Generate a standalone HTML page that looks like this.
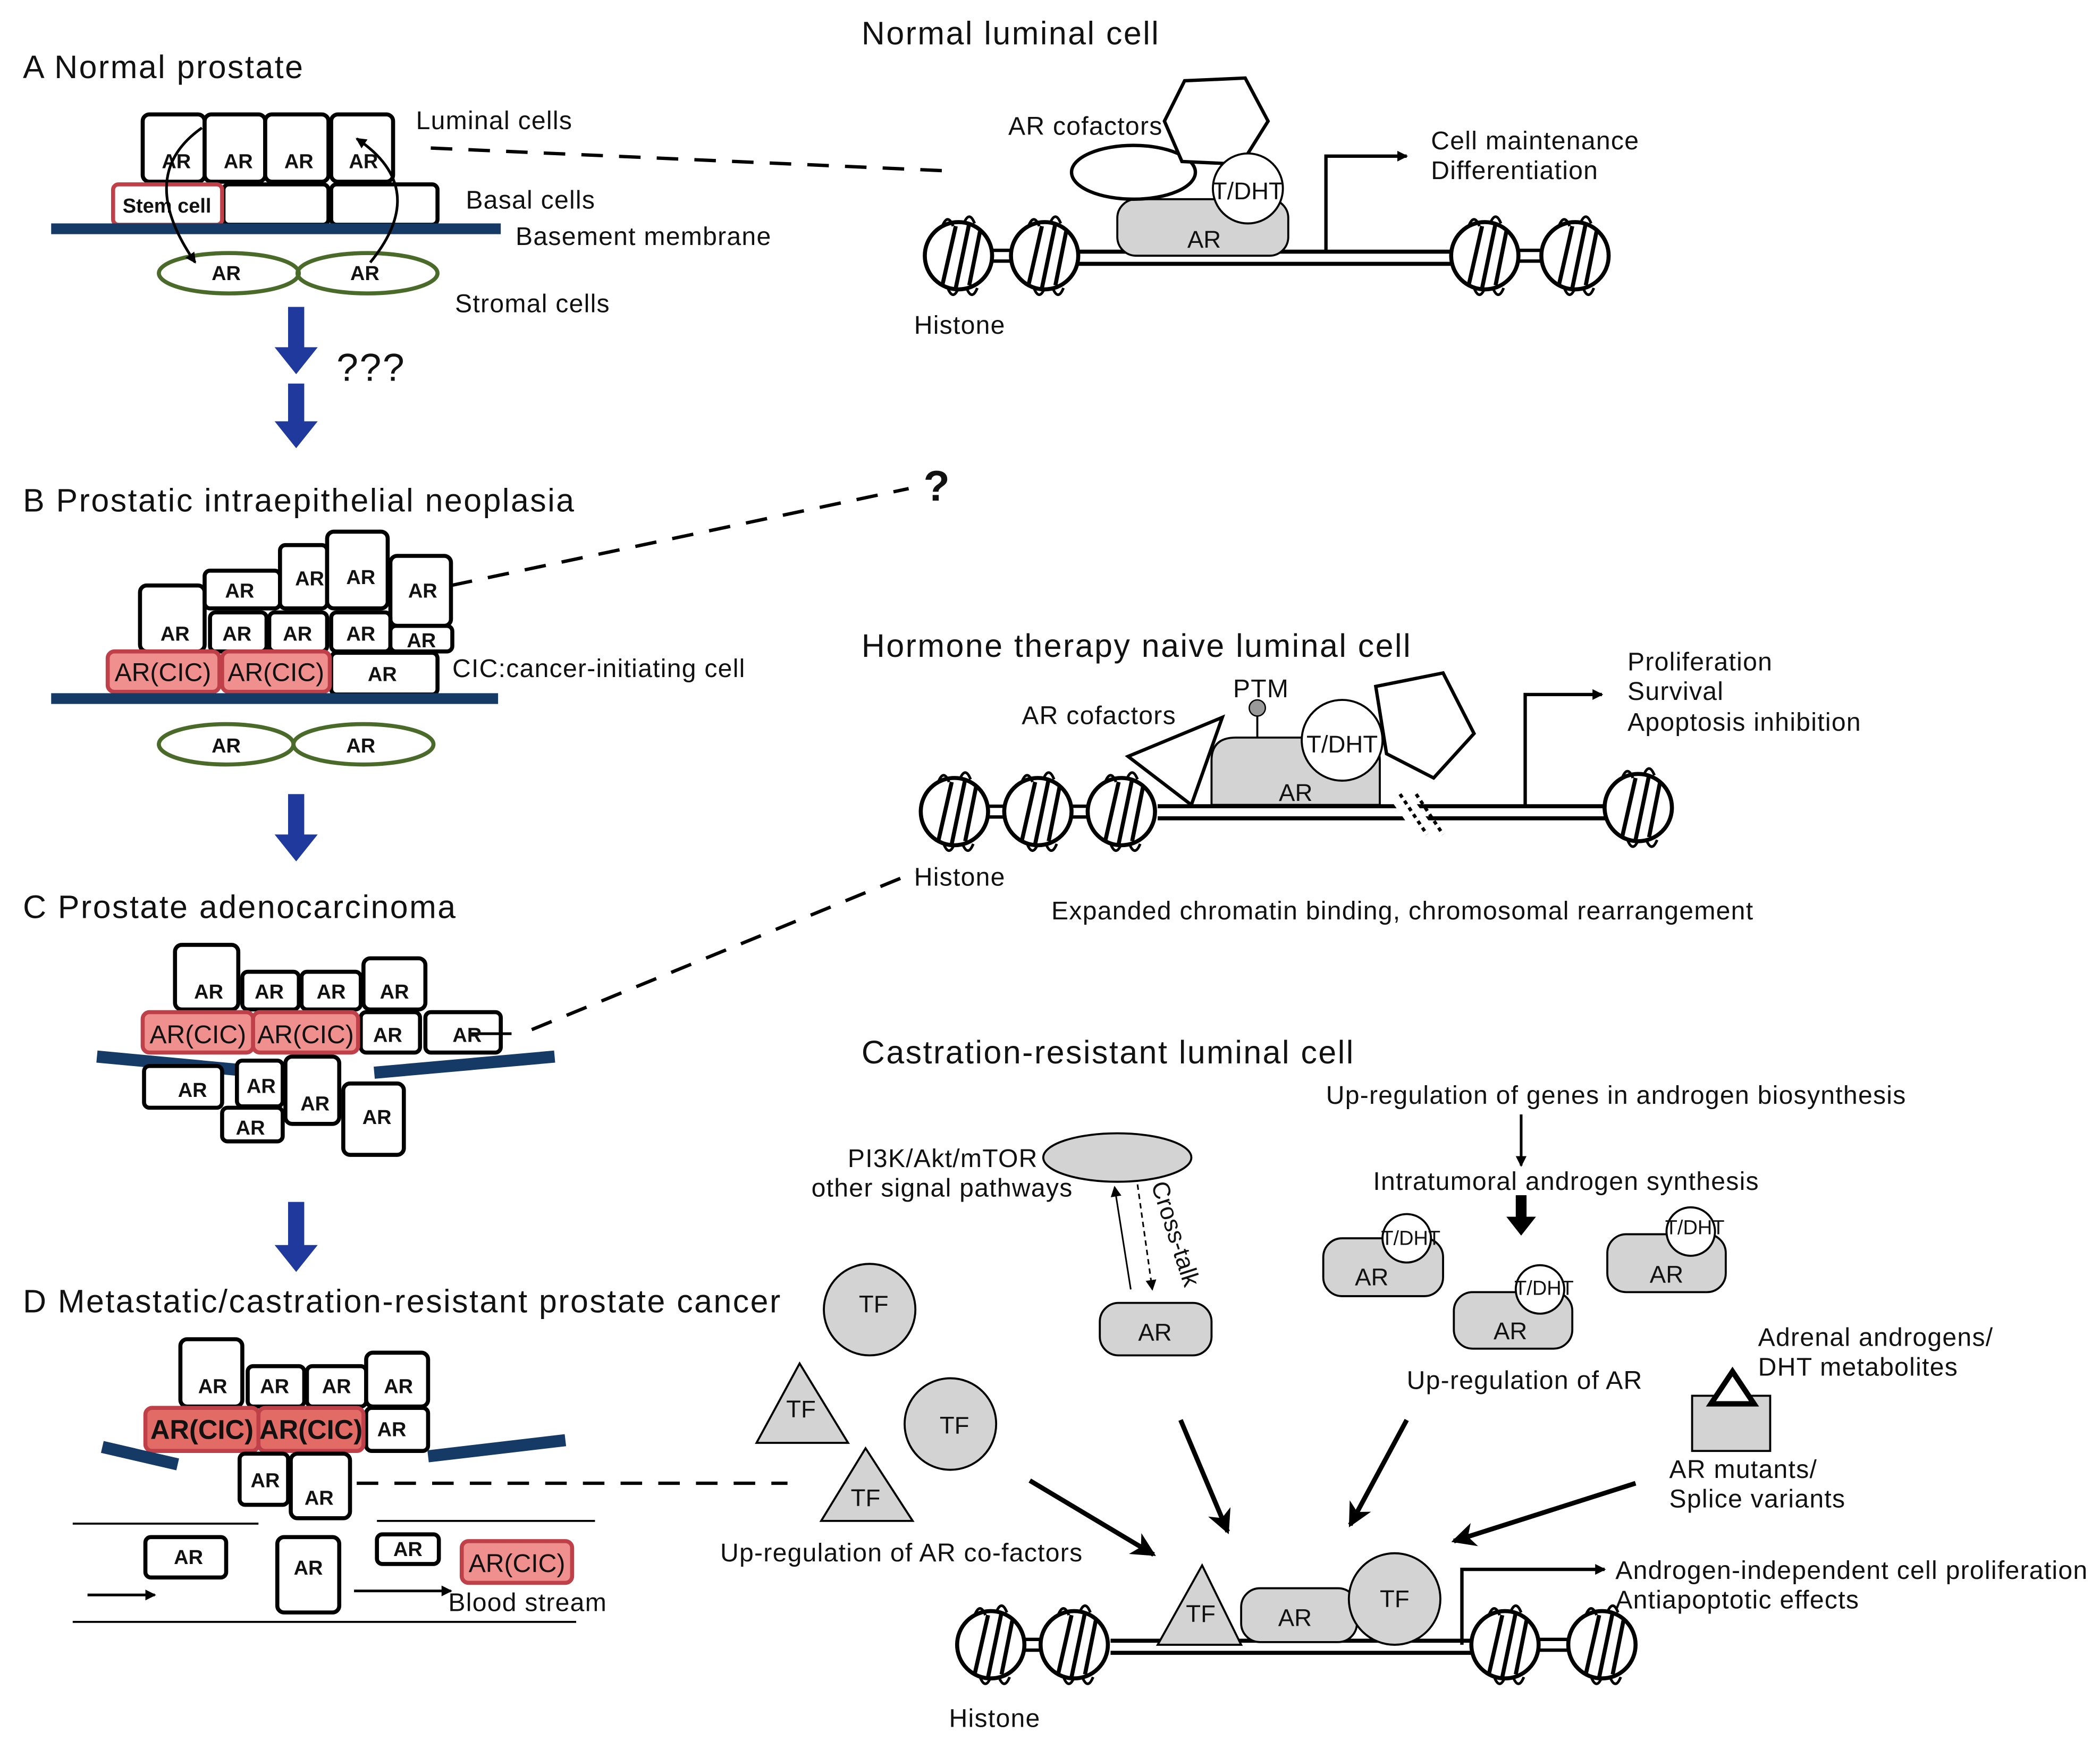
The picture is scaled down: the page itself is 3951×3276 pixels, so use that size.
<!DOCTYPE html>
<html><head><meta charset="utf-8"><style>
html,body{margin:0;padding:0;background:#fff;}
svg{display:block;}
text{font-family:"Liberation Sans",sans-serif;fill:#111;}
</style></head><body>
<svg width="3951" height="3276" viewBox="0 0 1560 1293.5" xmlns="http://www.w3.org/2000/svg">
<defs>
<g id="h">
<circle cx="0" cy="0" r="25" fill="#fff" stroke="#000" stroke-width="3"/>
<line x1="-12" y1="22" x2="-2" y2="-22" stroke="#000" stroke-width="3"/>
<line x1="-2" y1="24" x2="8" y2="-24" stroke="#000" stroke-width="3"/>
<line x1="8" y1="22" x2="16" y2="-18" stroke="#000" stroke-width="3"/>
<path d="M-12,-22 q4,-10 8,0 M4,-24 q4,-10 8,0 M-8,24 q4,10 8,0 M6,24 q4,10 8,0" fill="none" stroke="#000" stroke-width="2"/>
</g>
<marker id="ar" markerWidth="8" markerHeight="8" refX="7" refY="4" orient="auto" markerUnits="userSpaceOnUse"><path d="M0,0 L8,4 L0,8z" fill="#000"/></marker>
<marker id="arb" markerWidth="18" markerHeight="18" refX="16" refY="9" orient="auto" markerUnits="userSpaceOnUse"><path d="M0,0 L18,9 L0,18 L5,9z" fill="#000"/></marker>
</defs>

<g font-size="24" letter-spacing="1">
<text x="640" y="33">Normal luminal cell</text>
<text x="17" y="58">A  Normal prostate</text>
<text x="17" y="380">B Prostatic intraepithelial neoplasia</text>
<text x="17" y="682">C Prostate adenocarcinoma</text>
<text x="17" y="975">D Metastatic/castration-resistant prostate cancer</text>
<text x="640" y="488">Hormone therapy naive luminal cell</text>
<text x="640" y="790">Castration-resistant luminal cell</text>
</g>

<!-- Panel A -->
<g stroke="#000" stroke-width="3" fill="#fff">
<rect x="106" y="85" width="46" height="50" rx="5"/><rect x="152" y="85" width="45" height="50" rx="5"/>
<rect x="197" y="85" width="47" height="50" rx="5"/><rect x="246" y="85" width="46" height="50" rx="5"/>
<rect x="166" y="137" width="78" height="30" rx="4"/><rect x="246" y="137" width="79" height="30" rx="4"/>
</g>
<rect x="84" y="137" width="81" height="30" rx="4" fill="#fff" stroke="#c0404a" stroke-width="3"/>
<line x1="38" y1="170" x2="372" y2="170" stroke="#153a66" stroke-width="8"/>
<ellipse cx="170" cy="203" rx="52" ry="15" fill="none" stroke="#4a6a2a" stroke-width="3"/>
<ellipse cx="273" cy="203" rx="52" ry="15" fill="none" stroke="#4a6a2a" stroke-width="3"/>
<g font-size="15" font-weight="bold" text-anchor="middle">
<text x="131" y="125">AR</text><text x="177" y="125">AR</text><text x="222" y="125">AR</text><text x="270" y="125">AR</text>
<text x="124" y="158">Stem cell</text><text x="168" y="208">AR</text><text x="271" y="208">AR</text>
</g>
<path d="M150,95 Q100,130 145,195" fill="none" stroke="#000" stroke-width="2" marker-end="url(#ar)"/>
<path d="M275,195 Q320,140 265,103" fill="none" stroke="#000" stroke-width="2" marker-end="url(#ar)"/>
<g font-size="19" letter-spacing="0.5">
<text x="309" y="96">Luminal cells</text><text x="346" y="155">Basal cells</text>
<text x="383" y="182">Basement membrane</text><text x="338" y="232">Stromal cells</text>
</g>

<!-- blue arrows -->
<g fill="#1f3a9c">
<path d="M214,228 h12 v30 h10 l-16,20 l-16,-20 h10z"/>
<path d="M214,285 h12 v28 h10 l-16,20 l-16,-20 h10z"/>
<path d="M214,590 h12 v30 h10 l-16,20 l-16,-20 h10z"/>
<path d="M214,893 h12 v32 h10 l-16,20 l-16,-20 h10z"/>
</g>
<text x="250" y="283" font-size="29" letter-spacing="1">???</text>

<!-- dashed lines -->
<g stroke="#000" stroke-width="2.5" stroke-dasharray="16,12" fill="none">
<line x1="320" y1="110" x2="705" y2="127"/>
<line x1="335" y1="435" x2="675" y2="363"/>
<line x1="395" y1="765" x2="680" y2="648"/>
<line x1="265" y1="1102" x2="585" y2="1102"/>
</g>
<text x="686" y="372" font-size="32" font-weight="bold">?</text>

<!-- Normal luminal cell -->
<line x1="800" y1="187" x2="1080" y2="187" stroke="#000" stroke-width="3"/>
<line x1="800" y1="196" x2="1080" y2="196" stroke="#000" stroke-width="3"/>
<line x1="735" y1="186" x2="752" y2="186" stroke="#000" stroke-width="2.5"/><line x1="735" y1="194" x2="752" y2="194" stroke="#000" stroke-width="2.5"/>
<line x1="1127" y1="186" x2="1146" y2="186" stroke="#000" stroke-width="2.5"/><line x1="1127" y1="194" x2="1146" y2="194" stroke="#000" stroke-width="2.5"/>
<use href="#h" x="712" y="190"/><use href="#h" x="776" y="190"/><use href="#h" x="1103" y="190"/><use href="#h" x="1170" y="190"/>
<rect x="830" y="148" width="127" height="42" rx="14" fill="#d3d3d3" stroke="#000" stroke-width="1.5"/>
<ellipse cx="842" cy="128" rx="46" ry="20" fill="#fff" stroke="#000" stroke-width="2.5"/>
<polygon points="880,60 925,58 942,90 922,122 878,120 865,90" fill="#fff" stroke="#000" stroke-width="2.5"/>
<circle cx="927" cy="140" r="26" fill="#fff" stroke="#000" stroke-width="1.5"/>
<text x="927" y="148" font-size="18" text-anchor="middle">T/DHT</text>
<text x="882" y="184" font-size="18">AR</text>
<path d="M985,188 V116 H1045" fill="none" stroke="#000" stroke-width="2.5" marker-end="url(#ar)"/>
<g font-size="19" letter-spacing="0.5"><text x="749" y="100">AR cofactors</text><text x="1063" y="111">Cell maintenance</text><text x="1063" y="133">Differentiation</text><text x="679" y="248">Histone</text></g>

<!-- Panel B -->
<g stroke="#000" stroke-width="3" fill="#fff">
<rect x="104" y="435" width="48" height="49" rx="5"/>
<rect x="152" y="424" width="56" height="28" rx="4"/>
<rect x="208" y="405" width="35" height="47" rx="4"/>
<rect x="243" y="395" width="45" height="57" rx="5"/>
<rect x="290" y="413" width="45" height="52" rx="5"/>
<rect x="156" y="455" width="42" height="29" rx="4"/>
<rect x="200" y="455" width="43" height="29" rx="4"/>
<rect x="246" y="455" width="44" height="29" rx="4"/>
<rect x="290" y="465" width="46" height="19" rx="4"/>
<rect x="246" y="485" width="79" height="31" rx="4"/>
</g>
<rect x="80" y="484" width="83" height="30" rx="5" fill="#f0908e" stroke="#c0404a" stroke-width="3"/>
<rect x="165" y="484" width="80" height="30" rx="5" fill="#f0908e" stroke="#c0404a" stroke-width="3"/>
<line x1="38" y1="519" x2="370" y2="519" stroke="#153a66" stroke-width="8"/>
<ellipse cx="168" cy="553" rx="50" ry="15" fill="none" stroke="#4a6a2a" stroke-width="3"/>
<ellipse cx="270" cy="553" rx="52" ry="15" fill="none" stroke="#4a6a2a" stroke-width="3"/>
<g font-size="15" font-weight="bold" text-anchor="middle">
<text x="178" y="444">AR</text><text x="230" y="435">AR</text><text x="268" y="434">AR</text><text x="314" y="444">AR</text>
<text x="130" y="476">AR</text><text x="176" y="476">AR</text><text x="221" y="476">AR</text><text x="268" y="476">AR</text><text x="313" y="481">AR</text>
<text x="284" y="506">AR</text><text x="168" y="559">AR</text><text x="268" y="559">AR</text>
</g>
<g font-size="19" text-anchor="middle"><text x="121" y="506">AR(CIC)</text><text x="205" y="506">AR(CIC)</text></g>
<text x="336" y="503" font-size="19" letter-spacing="0.5">CIC:cancer-initiating cell</text>

<!-- Hormone naive -->
<line x1="860" y1="599" x2="1195" y2="599" stroke="#000" stroke-width="3"/>
<line x1="860" y1="608" x2="1195" y2="608" stroke="#000" stroke-width="3"/>
<g stroke="#000" stroke-width="2.5"><line x1="732" y1="599" x2="748" y2="599"/><line x1="732" y1="607" x2="748" y2="607"/><line x1="794" y1="599" x2="810" y2="599"/><line x1="794" y1="607" x2="810" y2="607"/></g>
<use href="#h" x="709" y="603"/><use href="#h" x="771" y="603"/><use href="#h" x="833" y="603"/><use href="#h" x="1217" y="600"/>
<line x1="1040" y1="592" x2="1060" y2="620" stroke="#fff" stroke-width="14"/>
<g stroke="#000" stroke-width="2.5" stroke-dasharray="3,3"><line x1="1040" y1="590" x2="1060" y2="620"/><line x1="1052" y1="590" x2="1072" y2="620"/></g>
<path d="M900,598 V565 Q900,548 918,548 H1010 Q1025,548 1025,565 V598z" fill="#d3d3d3" stroke="#000" stroke-width="1.5"/>
<polygon points="838,562 908,533 885,598" fill="#fff" stroke="#000" stroke-width="2.5"/>
<polygon points="1022,510 1072,500 1095,545 1065,578 1030,560" fill="#fff" stroke="#000" stroke-width="2.5"/>
<circle cx="997" cy="550" r="30" fill="#fff" stroke="#000" stroke-width="1.5"/>
<line x1="934" y1="530" x2="934" y2="548" stroke="#000" stroke-width="1.5"/>
<circle cx="934" cy="526" r="6" fill="#999" stroke="#000" stroke-width="1"/>
<text x="997" y="559" font-size="18" text-anchor="middle">T/DHT</text>
<text x="950" y="595" font-size="18">AR</text>
<path d="M1133,600 V516 H1190" fill="none" stroke="#000" stroke-width="2.5" marker-end="url(#ar)"/>
<g font-size="19" letter-spacing="0.5"><text x="916" y="518">PTM</text><text x="759" y="538">AR cofactors</text>
<text x="1209" y="498">Proliferation</text><text x="1209" y="520">Survival</text><text x="1209" y="543">Apoptosis inhibition</text>
<text x="679" y="658">Histone</text><text x="781" y="683">Expanded chromatin binding, chromosomal rearrangement</text></g>

<!-- Panel C -->
<g stroke="#000" stroke-width="3" fill="#fff">
<rect x="130" y="702" width="47" height="48" rx="5"/><rect x="180" y="722" width="42" height="28" rx="4"/>
<rect x="224" y="722" width="44" height="28" rx="4"/><rect x="270" y="712" width="46" height="38" rx="5"/>
<rect x="268" y="752" width="44" height="30" rx="4"/><rect x="316" y="752" width="56" height="30" rx="4"/>
</g>
<rect x="106" y="752" width="82" height="30" rx="5" fill="#f0908e" stroke="#c0404a" stroke-width="3"/>
<rect x="188" y="752" width="78" height="30" rx="5" fill="#f0908e" stroke="#c0404a" stroke-width="3"/>
<line x1="72" y1="785" x2="200" y2="797" stroke="#153a66" stroke-width="9"/>
<line x1="278" y1="797" x2="412" y2="785" stroke="#153a66" stroke-width="9"/>
<g stroke="#000" stroke-width="3" fill="#fff">
<rect x="107" y="792" width="58" height="31" rx="4"/><rect x="176" y="788" width="34" height="34" rx="4"/>
<rect x="212" y="785" width="40" height="50" rx="5"/><rect x="165" y="823" width="45" height="25" rx="4"/>
<rect x="255" y="805" width="45" height="53" rx="5"/>
</g>
<line x1="350" y1="768" x2="380" y2="768" stroke="#000" stroke-width="2"/>
<g font-size="15" font-weight="bold" text-anchor="middle">
<text x="155" y="742">AR</text><text x="200" y="742">AR</text><text x="246" y="742">AR</text><text x="293" y="742">AR</text>
<text x="288" y="774">AR</text><text x="347" y="774">AR</text>
<text x="143" y="815">AR</text><text x="194" y="812">AR</text><text x="234" y="825">AR</text><text x="186" y="843">AR</text><text x="280" y="835">AR</text>
</g>
<g font-size="19" text-anchor="middle"><text x="147" y="775">AR(CIC)</text><text x="227" y="775">AR(CIC)</text></g>

<!-- Panel D -->
<g stroke="#000" stroke-width="3" fill="#fff">
<rect x="134" y="995" width="46" height="50" rx="5"/><rect x="184" y="1015" width="42" height="30" rx="4"/>
<rect x="228" y="1015" width="44" height="30" rx="4"/><rect x="272" y="1005" width="46" height="40" rx="5"/>
<rect x="272" y="1046" width="46" height="32" rx="4"/>
</g>
<rect x="108" y="1046" width="84" height="32" rx="5" fill="#e36b66" stroke="#c0404a" stroke-width="3"/>
<rect x="192" y="1046" width="78" height="32" rx="5" fill="#e36b66" stroke="#c0404a" stroke-width="3"/>
<line x1="76" y1="1075" x2="132" y2="1088" stroke="#153a66" stroke-width="9"/>
<line x1="318" y1="1082" x2="420" y2="1070" stroke="#153a66" stroke-width="9"/>
<g stroke="#000" stroke-width="3" fill="#fff">
<rect x="178" y="1080" width="36" height="38" rx="4"/><rect x="216" y="1080" width="44" height="48" rx="5"/>
<rect x="108" y="1142" width="60" height="30" rx="4"/><rect x="206" y="1142" width="46" height="56" rx="5"/>
<rect x="280" y="1140" width="46" height="22" rx="4"/>
</g>
<rect x="343" y="1145" width="82" height="31" rx="5" fill="#f0908e" stroke="#c0404a" stroke-width="3"/>
<g stroke="#000" stroke-width="1.5"><line x1="54" y1="1132" x2="192" y2="1132"/><line x1="280" y1="1130" x2="442" y2="1130"/><line x1="54" y1="1205" x2="428" y2="1205"/></g>
<line x1="65" y1="1185" x2="115" y2="1185" stroke="#000" stroke-width="2" marker-end="url(#ar)"/>
<line x1="263" y1="1182" x2="335" y2="1182" stroke="#000" stroke-width="2" marker-end="url(#ar)"/>
<g font-size="15" font-weight="bold" text-anchor="middle">
<text x="158" y="1035">AR</text><text x="204" y="1035">AR</text><text x="250" y="1035">AR</text><text x="296" y="1035">AR</text>
<text x="291" y="1067">AR</text><text x="197" y="1105">AR</text><text x="237" y="1118">AR</text>
<text x="140" y="1162">AR</text><text x="229" y="1170">AR</text><text x="303" y="1156">AR</text>
</g>
<g font-size="20" font-weight="bold" text-anchor="middle"><text x="150" y="1069">AR(CIC)</text><text x="231" y="1069">AR(CIC)</text></g>
<text x="384" y="1168" font-size="19" text-anchor="middle">AR(CIC)</text>
<text x="333" y="1197" font-size="19" letter-spacing="0.5">Blood stream</text>

<!-- Castration-resistant -->
<ellipse cx="830" cy="860" rx="55" ry="18" fill="#d3d3d3" stroke="#000" stroke-width="1.5"/>
<g font-size="19" letter-spacing="0.5" text-anchor="end"><text x="771" y="867">PI3K/Akt/mTOR</text><text x="797" y="889">other signal pathways</text></g>
<line x1="840" y1="958" x2="828" y2="882" stroke="#000" stroke-width="1.2" marker-end="url(#ar)"/>
<line x1="845" y1="880" x2="856" y2="958" stroke="#000" stroke-width="1.2" stroke-dasharray="4,3" marker-end="url(#ar)"/>
<text x="0" y="0" font-size="18" transform="translate(855,880) rotate(72)">Cross-talk</text>
<rect x="817" y="968" width="83" height="39" rx="14" fill="#d3d3d3" stroke="#000" stroke-width="1.5"/>
<text x="858" y="996" font-size="18" text-anchor="middle">AR</text>
<g font-size="19" letter-spacing="0.5">
<text x="985" y="820">Up-regulation of genes in androgen biosynthesis</text>
<text x="1020" y="884">Intratumoral androgen synthesis</text>
<text x="1045" y="1032">Up-regulation of AR</text>
<text x="1306" y="1000">Adrenal androgens/</text><text x="1306" y="1022">DHT metabolites</text>
<text x="1240" y="1098">AR mutants/</text><text x="1240" y="1120">Splice variants</text>
<text x="535" y="1160">Up-regulation of AR co-factors</text>
<text x="1200" y="1173">Androgen-independent cell proliferation</text>
<text x="1200" y="1195">Antiapoptotic effects</text>
<text x="705" y="1283">Histone</text>
</g>
<line x1="1130" y1="828" x2="1130" y2="866" stroke="#000" stroke-width="2" marker-end="url(#ar)"/>
<path d="M1126,888 h8 v16 h7 l-11,14 l-11,-14 h7z" fill="#000"/>
<g fill="#d3d3d3" stroke="#000" stroke-width="1.5">
<rect x="983" y="920" width="89" height="43" rx="14"/><rect x="1080" y="960" width="88" height="42" rx="14"/><rect x="1194" y="917" width="88" height="43" rx="14"/>
</g>
<g fill="#fff" stroke="#000" stroke-width="1.5"><circle cx="1045" cy="920" r="18"/><circle cx="1144" cy="958" r="18"/><circle cx="1256" cy="915" r="18"/></g>
<g font-size="15" text-anchor="middle"><text x="1048" y="925">T/DHT</text><text x="1147" y="962">T/DHT</text><text x="1259" y="917">T/DHT</text></g>
<g font-size="18" text-anchor="middle"><text x="1019" y="955">AR</text><text x="1122" y="995">AR</text><text x="1238" y="953">AR</text></g>
<rect x="1257" y="1037" width="58" height="41" fill="#d3d3d3" stroke="#000" stroke-width="1.5"/>
<polygon points="1287,1019 1271,1043 1303,1043" fill="#fff" stroke="#000" stroke-width="4"/>
<g fill="#d3d3d3" stroke="#000" stroke-width="1.5">
<circle cx="646" cy="973" r="34"/><circle cx="706" cy="1058" r="34"/>
<polygon points="594,1013 562,1072 630,1072"/><polygon points="643,1076 610,1130 678,1130"/>
</g>
<g font-size="18" text-anchor="middle"><text x="649" y="975">TF</text><text x="709" y="1065">TF</text><text x="595" y="1053">TF</text><text x="643" y="1119">TF</text></g>
<g stroke="#000" stroke-width="3.5" fill="none">
<line x1="765" y1="1100" x2="857" y2="1155" marker-end="url(#arb)"/>
<line x1="877" y1="1055" x2="912" y2="1138" marker-end="url(#arb)"/>
<line x1="1045" y1="1055" x2="1003" y2="1133" marker-end="url(#arb)"/>
<line x1="1215" y1="1102" x2="1080" y2="1145" marker-end="url(#arb)"/>
</g>
<!-- bottom DNA -->
<line x1="825" y1="1219" x2="1100" y2="1219" stroke="#000" stroke-width="3"/>
<line x1="825" y1="1228" x2="1100" y2="1228" stroke="#000" stroke-width="3"/>
<g stroke="#000" stroke-width="2.5"><line x1="758" y1="1218" x2="776" y2="1218"/><line x1="758" y1="1226" x2="776" y2="1226"/><line x1="1140" y1="1218" x2="1168" y2="1218"/><line x1="1140" y1="1226" x2="1168" y2="1226"/></g>
<use href="#h" x="736" y="1222"/><use href="#h" x="798" y="1222"/><use href="#h" x="1118" y="1222"/><use href="#h" x="1190" y="1222"/>
<polygon points="860,1222 893,1163 922,1222" fill="#d3d3d3" stroke="#000" stroke-width="1.5"/>
<rect x="922" y="1180" width="86" height="40" rx="14" fill="#d3d3d3" stroke="#000" stroke-width="1.5"/>
<circle cx="1036" cy="1188" r="34" fill="#d3d3d3" stroke="#000" stroke-width="1.5"/>
<g font-size="18" text-anchor="middle"><text x="892" y="1205">TF</text><text x="962" y="1208">AR</text><text x="1036" y="1194">TF</text></g>
<path d="M1086,1222 V1166 H1192" fill="none" stroke="#000" stroke-width="2.5" marker-end="url(#ar)"/>
</svg>
</body></html>
